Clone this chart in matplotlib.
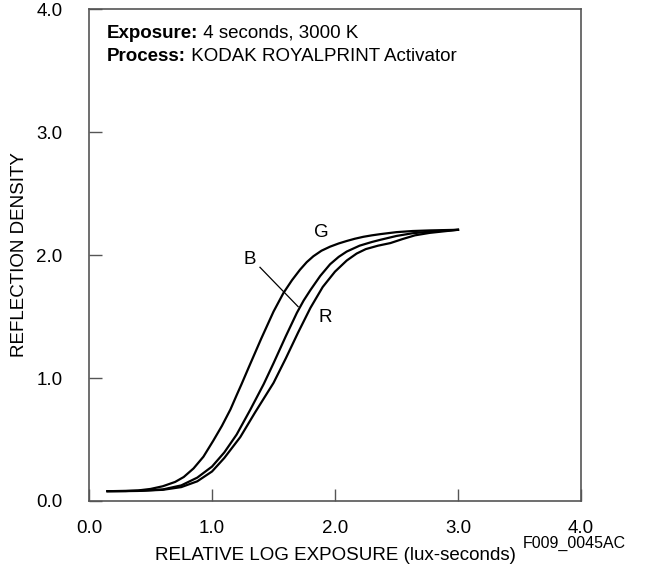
import matplotlib
matplotlib.use("Agg")
import matplotlib.pyplot as plt

plt.rcParams['font.family'] = ['Liberation Sans', 'DejaVu Sans']

# ── Characteristic curves ──
g_x = [0.15, 0.30, 0.40, 0.50, 0.60, 0.70, 0.77, 0.85, 0.93, 1.01, 1.08, 1.15,
       1.20, 1.24, 1.30, 1.40, 1.50, 1.58, 1.65, 1.715, 1.77, 1.824, 1.89,
       1.96, 2.03, 2.095, 2.16, 2.23, 2.30, 2.37, 2.50, 2.63, 2.77, 3.00]
g_y = [0.08, 0.081, 0.086, 0.098, 0.12, 0.155, 0.195, 0.265, 0.36, 0.49, 0.61,
       0.745, 0.86, 0.95, 1.09, 1.32, 1.54, 1.69, 1.795, 1.88, 1.942, 1.99,
       2.035, 2.068, 2.094, 2.114, 2.132, 2.148, 2.16, 2.17, 2.186, 2.195, 2.20,
       2.205]

b_x = [0.15, 0.40, 0.60, 0.75, 0.88, 1.00, 1.10, 1.20, 1.31, 1.42, 1.50, 1.60,
       1.69, 1.745, 1.80, 1.88, 1.96, 2.03, 2.095, 2.20, 2.30, 2.37, 2.50, 2.63,
       2.77, 3.00]
b_y = [0.08, 0.082, 0.094, 0.127, 0.19, 0.28, 0.395, 0.54, 0.74, 0.95, 1.12,
       1.34, 1.53, 1.63, 1.715, 1.83, 1.925, 1.985, 2.028, 2.076, 2.106, 2.124,
       2.155, 2.177, 2.19, 2.205]

r_x = [0.15, 0.40, 0.60, 0.75, 0.88, 1.00, 1.10, 1.23, 1.35, 1.50, 1.60, 1.70,
       1.80, 1.90, 2.00, 2.095, 2.176, 2.25, 2.35, 2.45, 2.55, 2.65, 2.77, 3.00]
r_y = [0.08, 0.082, 0.091, 0.113, 0.16, 0.24, 0.35, 0.52, 0.72, 0.96, 1.16,
       1.37, 1.57, 1.74, 1.865, 1.955, 2.012, 2.048, 2.076, 2.097, 2.13, 2.16,
       2.18, 2.205]

ticks = [0, 1, 2, 3, 4]
tick_labels = ['0.0', '1.0', '2.0', '3.0', '4.0']

FS = 13.5

fig = plt.figure(figsize=(6.47, 5.75), dpi=100)
ax = fig.add_axes([0.1376, 0.1287, 0.7604, 0.8556])

for xs, ys in [(g_x, g_y), (b_x, b_y), (r_x, r_y)]:
    ax.plot(xs, ys, color='black', linewidth=1.6, solid_joinstyle='round')

# curve labels and the B leader line
ax.text(1.89, 2.18, 'G', fontsize=FS, ha='center', va='center')
ax.text(1.31, 1.96, 'B', fontsize=FS, ha='center', va='center')
ax.text(1.92, 1.49, 'R', fontsize=FS, ha='center', va='center')
ax.plot([1.39, 1.70], [1.90, 1.58], color='black', linewidth=0.9)

# exposure / process notes: bold key followed by plain text
t1 = ax.text(0.146, 3.805, 'Exposure:', fontsize=FS, fontweight='bold',
             va='center', ha='left')
ax.annotate(' 4 seconds, 3000 K', xy=(1, 0), xycoords=t1, fontsize=FS,
            va='bottom', ha='left')
t2 = ax.text(0.146, 3.615, 'Process:', fontsize=FS, fontweight='bold',
             va='center', ha='left')
ax.annotate(' KODAK ROYALPRINT Activator', xy=(1, 0), xycoords=t2, fontsize=FS,
            va='bottom', ha='left')

ax.set_xlim(0, 4)
ax.set_ylim(0, 4)
ax.set_xticks(ticks)
ax.set_xticklabels(tick_labels)
ax.set_yticks(ticks)
ax.set_yticklabels(tick_labels)
ax.tick_params(direction='in', length=9, width=1, color='#555555', labelsize=FS,
               pad=14)
ax.tick_params(axis='y', pad=19)
for s in ax.spines.values():
    s.set_color('#555555')
    s.set_linewidth(1.2)

ax.set_xlabel('RELATIVE LOG EXPOSURE (lux-seconds)', fontsize=FS, labelpad=7)
ax.set_ylabel('REFLECTION DENSITY', fontsize=FS, labelpad=6)
fig.text(0.887, 0.055, 'F009_0045AC', fontsize=11.5, ha='center', va='center')

fig.savefig('out.png', dpi=100)
